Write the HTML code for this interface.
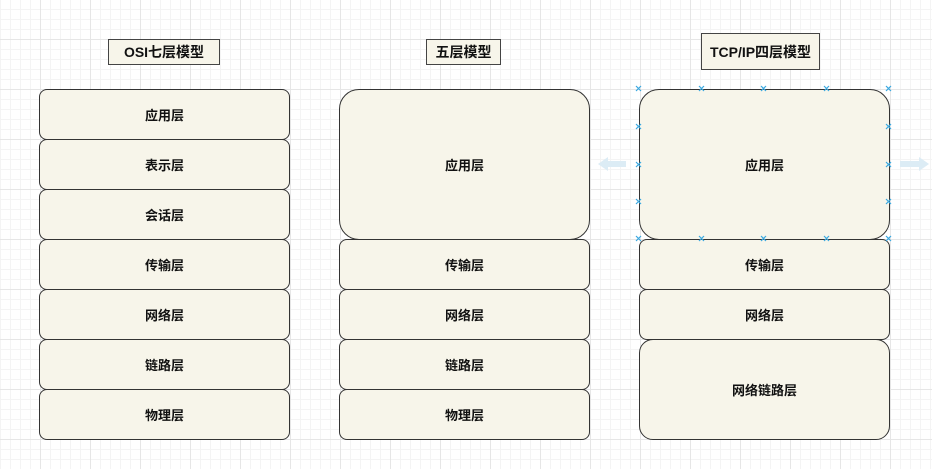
<!DOCTYPE html>
<html><head><meta charset="utf-8"><style>
body{margin:0;width:932px;height:469px;overflow:hidden;background:#fff;
background-image:linear-gradient(#e6e6e6 1px,transparent 1px),linear-gradient(90deg,#e6e6e6 1px,transparent 1px),linear-gradient(#f4f4f4 1px,transparent 1px),linear-gradient(90deg,#f4f4f4 1px,transparent 1px);
background-size:50px 50px,50px 50px,10px 10px,10px 10px;background-position:-10px -11px,-10px -11px,0 -1px,0 -1px;
font-family:"Liberation Sans","Noto Sans CJK SC",sans-serif;position:relative}
.b{position:absolute;box-sizing:border-box;background:#f7f5ea;border:1.3px solid #333;border-radius:8px;display:flex;align-items:center;justify-content:center;font-size:13px;font-weight:bold;color:#111}
.t{position:absolute;box-sizing:border-box;background:#f7f5ea;border:1.5px solid #444;display:flex;align-items:center;justify-content:center;font-size:14px;font-weight:bold;color:#111}
.x{position:absolute;color:#3aa8e0;font-size:10px;line-height:10px;width:10px;text-align:center;margin:-5px 0 0 -5px}
</style></head><body>
<div class="t" style="left:108px;top:39px;width:112px;height:26px">OSI七层模型</div>
<div class="t" style="left:426px;top:39px;width:75px;height:26px">五层模型</div>
<div class="t" style="left:701px;top:33px;width:119px;height:37px">TCP/IP四层模型</div>

<div class="b" style="left:39px;top:89px;width:251px;height:51px">应用层</div>
<div class="b" style="left:39px;top:139px;width:251px;height:51px">表示层</div>
<div class="b" style="left:39px;top:189px;width:251px;height:51px">会话层</div>
<div class="b" style="left:39px;top:239px;width:251px;height:51px">传输层</div>
<div class="b" style="left:39px;top:289px;width:251px;height:51px">网络层</div>
<div class="b" style="left:39px;top:339px;width:251px;height:51px">链路层</div>
<div class="b" style="left:39px;top:389px;width:251px;height:51px">物理层</div>

<div class="b" style="left:339px;top:89px;width:251px;height:151px;border-radius:20px">应用层</div>
<div class="b" style="left:339px;top:239px;width:251px;height:51px">传输层</div>
<div class="b" style="left:339px;top:289px;width:251px;height:51px">网络层</div>
<div class="b" style="left:339px;top:339px;width:251px;height:51px">链路层</div>
<div class="b" style="left:339px;top:389px;width:251px;height:51px">物理层</div>

<div class="b" style="left:639px;top:89px;width:251px;height:151px;border-radius:20px">应用层</div>
<div class="b" style="left:639px;top:239px;width:251px;height:51px">传输层</div>
<div class="b" style="left:639px;top:289px;width:251px;height:51px">网络层</div>
<div class="b" style="left:639px;top:339px;width:251px;height:101px;border-radius:14px">网络链路层</div>

<svg style="position:absolute;left:0;top:0" width="932" height="469">
<g fill="#dcecf5">
<polygon points="598,164 608,157 608,161 626,161 626,167 608,167 608,171"/>
<polygon points="929,164 919,157 919,161 900,161 900,167 919,167 919,171"/>
</g>
<g stroke="#3aa8e0" stroke-width="1.2">
<path d="M636,86l5,5m0,-5l-5,5 M699,86l5,5m0,-5l-5,5 M761,86l5,5m0,-5l-5,5 M824,86l5,5m0,-5l-5,5 M886,86l5,5m0,-5l-5,5
M636,236l5,5m0,-5l-5,5 M699,236l5,5m0,-5l-5,5 M761,236l5,5m0,-5l-5,5 M824,236l5,5m0,-5l-5,5 M886,236l5,5m0,-5l-5,5
M636,124l5,5m0,-5l-5,5 M636,162l5,5m0,-5l-5,5 M636,199l5,5m0,-5l-5,5
M886,124l5,5m0,-5l-5,5 M886,162l5,5m0,-5l-5,5 M886,199l5,5m0,-5l-5,5"/>
</g>
</svg>
</body></html>
